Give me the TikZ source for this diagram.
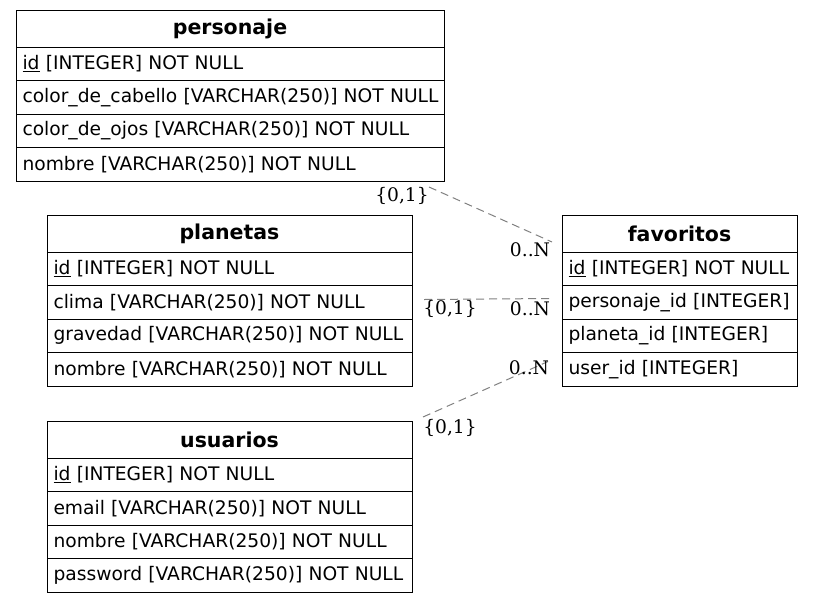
\documentclass[tikz,border=0pt]{standalone}
\usepackage{fontspec}
\setmainfont{DejaVu Sans}
\newfontfamily\cardfont{DejaVu Serif}
\usetikzlibrary{positioning}

\begin{document}
\begin{tikzpicture}[x=1pt, y=-1pt,
    tblhead/.style={draw, line width=1pt, outer sep=0pt, anchor=north west, minimum width=#1,
      minimum height=37pt, inner sep=0pt, font=\fontsize{20.5}{24}\selectfont\bfseries},
    tblrow/.style={draw, line width=1pt, outer sep=0pt, text width=#1, minimum height=33.5pt,
      inner xsep=6.5pt, inner ysep=0pt, align=left, font=\fontsize{18.67}{22}\selectfont},
    rel/.style={draw=gray, line width=1pt, dash pattern=on 8pt off 5pt},
    card/.style={inner sep=0pt, font=\cardfont\fontsize{18.67}{22}\selectfont},
  ]
  \useasboundingbox (0,0) rectangle (813,603);

  % ===== tables =====
  \node[tblhead=428pt] (per0) at (16,10) {personaje};
  \foreach \txt [count=\i, remember=\i as \j (initially 0)] in
    {{\underline{id} [INTEGER] NOT NULL},
     {color\_de\_cabello [VARCHAR(250)] NOT NULL},
     {color\_de\_ojos [VARCHAR(250)] NOT NULL},
     {nombre [VARCHAR(250)] NOT NULL}}
    \node[tblrow=415pt, below=0pt of per\j] (per\i) {\mbox{\txt}};

  \node[tblhead=365pt] (pla0) at (47,215) {planetas};
  \foreach \txt [count=\i, remember=\i as \j (initially 0)] in
    {{\underline{id} [INTEGER] NOT NULL},
     {clima [VARCHAR(250)] NOT NULL},
     {gravedad [VARCHAR(250)] NOT NULL},
     {nombre [VARCHAR(250)] NOT NULL}}
    \node[tblrow=352pt, below=0pt of pla\j] (pla\i) {\mbox{\txt}};

  \node[tblhead=365pt] (usu0) at (47,421) {usuarios};
  \foreach \txt [count=\i, remember=\i as \j (initially 0)] in
    {{\underline{id} [INTEGER] NOT NULL},
     {email [VARCHAR(250)] NOT NULL},
     {nombre [VARCHAR(250)] NOT NULL},
     {password [VARCHAR(250)] NOT NULL}}
    \node[tblrow=352pt, below=0pt of usu\j] (usu\i) {\mbox{\txt}};

  \node[tblhead=235pt] (fav0) at (562,215) {favoritos};
  \foreach \txt [count=\i, remember=\i as \j (initially 0)] in
    {{\underline{id} [INTEGER] NOT NULL},
     {personaje\_id [INTEGER]},
     {planeta\_id [INTEGER]},
     {user\_id [INTEGER]}}
    \node[tblrow=222pt, below=0pt of fav\j] (fav\i) {\mbox{\txt}};

  % ===== relations =====
  \coordinate (e1a) at ([shift={(-15pt,-6pt)}]per4.south east);
  \coordinate (e1b) at ([shift={(-10pt,10pt)}]fav0.south west);
  \coordinate (e2a) at ([shift={(12pt,-14pt)}]pla2.north east);
  \coordinate (e2b) at ([shift={(-10pt,-13pt)}]fav2.north west);
  \coordinate (e3a) at ([shift={(11pt,4pt)}]usu0.north east);
  \coordinate (e3b) at ([shift={(-14pt,-9pt)}]fav4.north west);

  \draw[rel] (e1a) -- (e1b);
  \draw[rel] (e2a) -- (e2b);
  \draw[rel] (e3a) -- (e3b);

  \node[card] (c1a) at ([shift={(-27pt,-9pt)}]e1a) {\{0,1\}};
  \node[card] (c1b) at ([shift={(-22pt,-8pt)}]e1b) {0..N};
  \node[card] (c2a) at ([shift={(26pt,-9pt)}]e2a) {\{0,1\}};
  \node[card] (c2b) at ([shift={(-22pt,-10pt)}]e2b) {0..N};
  \node[card] (c3a) at ([shift={(27pt,-11pt)}]e3a) {\{0,1\}};
  \node[card] (c3b) at ([shift={(-19pt,-6pt)}]e3b) {0..N};
\end{tikzpicture}
\end{document}
